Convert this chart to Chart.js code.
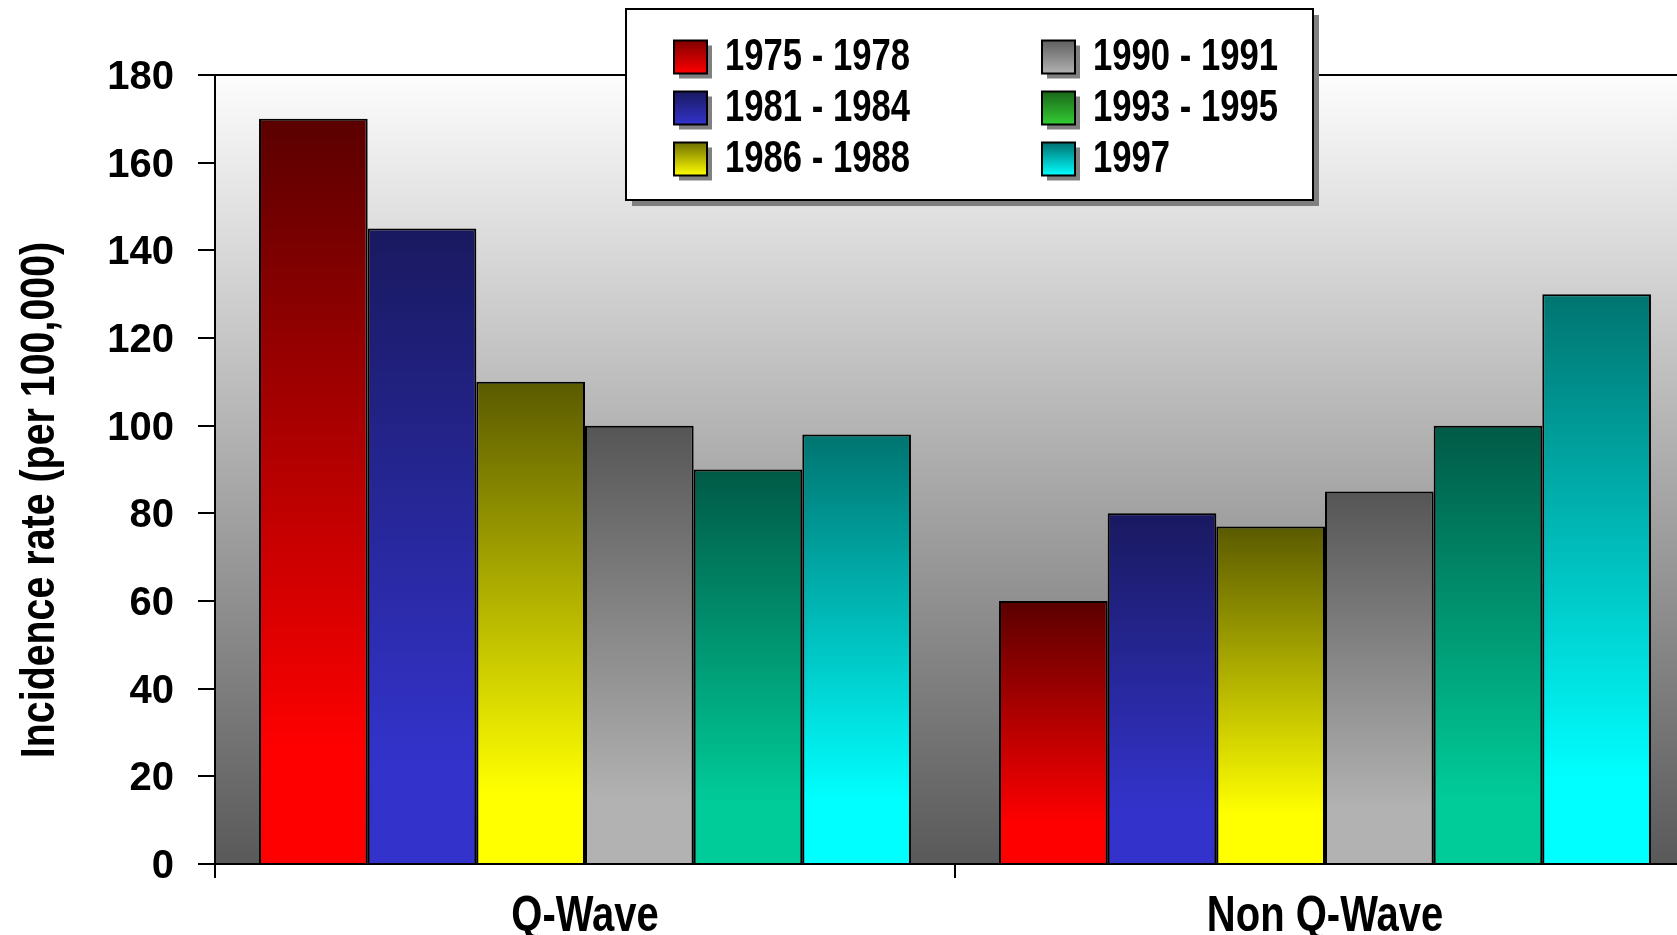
<!DOCTYPE html>
<html>
<head>
<meta charset="utf-8">
<script src="https://cdn.jsdelivr.net/npm/chart.js@4/dist/chart.umd.min.js"></script>
<style>
  html, body { margin:0; padding:0; background:#fff; overflow:hidden; }
  #wrap { width:1677px; height:935px; position:relative; overflow:hidden; }
</style>
</head>
<body>
<!-- plot runs a little past the right edge in the original, so the canvas is wider than the window -->
<div id="wrap"><canvas id="chart" width="1695" height="935"></canvas></div>
<script>
// data
const categories = ["Q-Wave", "Non Q-Wave"];
const periods = ["1975 - 1978", "1981 - 1984", "1986 - 1988", "1990 - 1991", "1993 - 1995", "1997"];
const qWave = [170, 145, 110, 100, 90, 98];
const nonQWave = [60, 80, 77, 85, 100, 130];
const yMin = 0, yMax = 180, yStep = 20;
const yTitle = "Incidence rate (per 100,000)";

// colours: dark top -> bright bottom
const barTop    = ["#5a0000", "#191960", "#5a5a00", "#555555", "#005a46", "#007470"];
const barBottom = ["#ff0000", "#3333cc", "#ffff00", "#b2b2b2", "#00cc99", "#00ffff"];
const keyTop    = ["#800000", "#191960", "#707000", "#606060", "#1a661a", "#007070"];
const keyBottom = ["#ff0000", "#3333cc", "#ffff00", "#b2b2b2", "#33cc33", "#00ffff"];

// no narrow font installed, so squeeze Liberation Sans bold by hand
const FONT = "'Liberation Sans', Arial, sans-serif";

function narrowText(c, text, x, y, size, squeeze, align, angle){
  c.save();
  c.translate(x, y);
  if(angle) c.rotate(angle);
  c.scale(squeeze, 1);
  c.font = "bold " + size + "px " + FONT;
  c.textAlign = align;
  c.textBaseline = "middle";
  c.fillStyle = "#000";
  c.fillText(text, 0, 0);
  c.restore();
}

function barFill(i){
  return function(ctx){
    const chart = ctx.chart;
    if(!chart.chartArea || ctx.raw == null) return barBottom[i];
    const y = chart.scales.y;
    const top = y.getPixelForValue(ctx.raw);
    const base = y.getPixelForValue(0);
    const g = chart.ctx.createLinearGradient(0, top, 0, base);
    g.addColorStop(0, barTop[i]);
    g.addColorStop(0.85, barBottom[i]);
    g.addColorStop(1, barBottom[i]);
    return g;
  };
}

const datasets = periods.map((p, i) => ({
  label: p,
  data: [qWave[i], nonQWave[i]],
  backgroundColor: barFill(i),
  borderColor: "#000",
  borderWidth: 2,
  borderSkipped: "bottom",
  categoryPercentage: 0.881,
  barPercentage: 1.0
}));

// gray gradient behind the plot
const plotBg = {
  id: "plotBg",
  beforeDraw(chart){
    const a = chart.chartArea, c = chart.ctx;
    const g = c.createLinearGradient(0, a.top, 0, a.bottom);
    g.addColorStop(0, "#fdfdfd");
    g.addColorStop(1, "#595959");
    c.save();
    c.fillStyle = g;
    c.fillRect(a.left, a.top, a.right - a.left, a.bottom - a.top);
    c.restore();
  }
};

// category labels + axis title in the squeezed font
const axisText = {
  id: "axisText",
  afterDraw(chart){
    const c = chart.ctx, xs = chart.scales.x;
    chart.data.labels.forEach((lab, i) => {
      narrowText(c, lab, xs.getPixelForValue(i), 917, 50, 0.8, "center", 0);
    });
    narrowText(c, yTitle, 41, 500, 48, 0.82, "center", -Math.PI / 2);
  }
};

// boxed legend with drop shadows, two columns
const boxLegend = {
  id: "boxLegend",
  afterDraw(chart){
    const c = chart.ctx;
    const bx = 626, by = 9, bw = 687, bh = 191;
    c.save();
    c.fillStyle = "#808080";
    c.fillRect(bx + 6, by + 6, bw, bh);
    c.fillStyle = "#fff";
    c.fillRect(bx, by, bw, bh);
    c.lineWidth = 2;
    c.strokeStyle = "#000";
    c.strokeRect(bx, by, bw, bh);

    const colX = [674, 1042];
    const rowY = [57, 108, 159];
    const sw = 33;
    chart.data.datasets.forEach((ds, i) => {
      const col = Math.floor(i / 3), row = i % 3;
      const x = colX[col], cy = rowY[row];
      const y0 = cy - sw / 2;
      c.fillStyle = "#808080";
      c.fillRect(x + 5, y0 + 5, sw, sw);
      const g = c.createLinearGradient(0, y0, 0, y0 + sw);
      g.addColorStop(0, keyTop[i]);
      g.addColorStop(1, keyBottom[i]);
      c.fillStyle = g;
      c.fillRect(x, y0, sw, sw);
      c.strokeStyle = "#000";
      c.lineWidth = 2;
      c.strokeRect(x, y0, sw, sw);
      narrowText(c, ds.label, x + 51, cy + 1, 45, 0.77, "left", 0);
    });
    c.restore();
  }
};

new Chart(document.getElementById("chart"), {
  type: "bar",
  data: { labels: categories, datasets: datasets },
  plugins: [plotBg, axisText, boxLegend],
  options: {
    responsive: false,
    animation: false,
    layout: { padding: { top: 75, right: 0, left: 0, bottom: 0 } },
    plugins: { legend: { display: false }, tooltip: { enabled: false } },
    scales: {
      x: {
        offset: true,
        grid: { offset: true, drawOnChartArea: false, drawTicks: true, tickLength: 14, tickColor: "#000", lineWidth: 2 },
        border: { display: true, color: "#000", width: 2 },
        ticks: { display: false },
        afterFit(s){ s.height = 71; }
      },
      y: {
        min: yMin, max: yMax,
        grid: {
          drawOnChartArea: true,
          color: ctx => (ctx.tick && ctx.tick.value === yMax) ? "#000" : "rgba(0,0,0,0)",
          tickColor: "#000", tickLength: 17, lineWidth: 2
        },
        border: { display: true, color: "#000", width: 2 },
        ticks: { stepSize: yStep, color: "#000", padding: 24, labelOffset: 3, font: { family: FONT, size: 40, weight: "bold" } },
        title: { display: false },
        afterFit(s){ s.width = 215; }
      }
    }
  }
});
</script>
</body>
</html>
